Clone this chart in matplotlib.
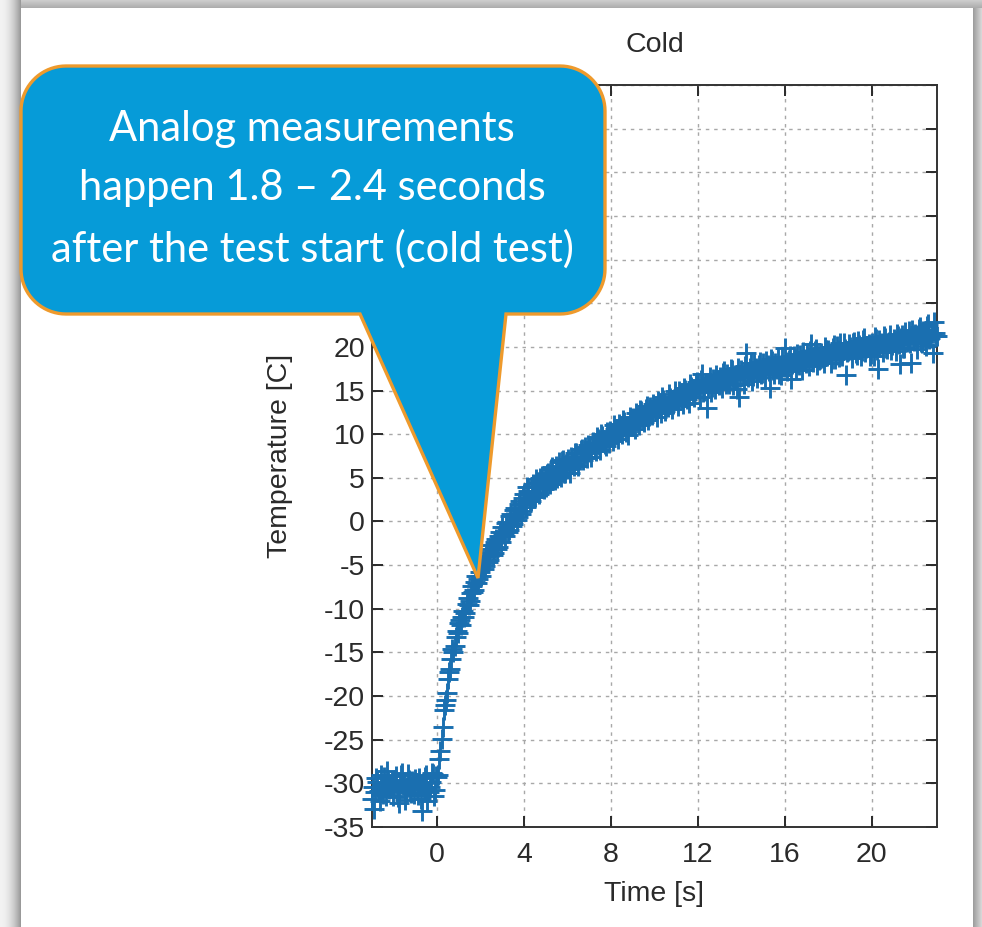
import numpy as np
import matplotlib
matplotlib.use("Agg")
import matplotlib.pyplot as plt
from matplotlib.patches import PathPatch, Rectangle
from matplotlib.path import Path
from matplotlib.transforms import Affine2D

# ---------------- data ----------------
title = "Cold"
x_label = "Time [s]"
y_label = "Temperature [C]"
x_ticks = [0, 4, 8, 12, 16, 20]
y_ticks = [-35, -30, -25, -20, -15, -10, -5, 0, 5, 10, 15, 20, 25, 30, 35, 40, 45, 50]
x_limits = (-3, 23)
y_limits = (-35, 50)
callout_text = "Analog measurements\nhappen 1.8 \u2013 2.4 seconds\nafter the test start (cold test)"

time_start = -3.0   # s, first sample
time_step = 0.1     # s, sampling interval of each sample list
# samples at -3.0, -2.9, ...
temperature = [
    -31.8, -32.9, -29.4, -30.9, -29.1, -31.2, -30.0, -28.6, -30.7, -29.8,
    -30.5, -29.2, -31.6, -30.1, -28.8, -31.9, -30.4, -29.6, -31.1, -30.0,
    -29.5, -31.3, -30.2, -33.2, -30.6, -29.0, -31.0, -29.9, -28.9, -30.8,
    -29.3, -27.2, -24.9, -21.6, -20.4, -18.0, -16.9, -14.6, -14.3, -12.5,
    -11.6, -11.9, -10.2, -10.5, -8.8, -9.1, -7.4, -7.9, -6.3, -6.6,
    -6.3, -4.6, -5.1, -3.5, -4.4, -2.7, -3.6, -2.0, -2.9, -1.2,
    -0.6, -1.7, -0.1, -1.0, 0.9, -0.3, 1.6, 0.5, 2.4, 1.2,
    3.2, 1.7, 3.5, 2.3, 4.3, 2.8, 4.5, 3.1, 5.2, 3.7,
    4.0, 5.6, 4.3, 6.2, 4.7, 5.0, 6.8, 5.1, 7.0, 5.5,
    7.1, 5.6, 6.9, 6.3, 7.8, 6.4, 8.2, 7.0, 8.5, 7.3,
    8.6, 7.4, 9.0, 8.1, 9.5, 8.2, 9.8, 8.9, 10.3, 9.0,
    10.1, 9.2, 10.6, 9.5, 10.9, 10.0, 11.4, 10.2, 9.9, 11.3,
    11.8, 10.6, 12.0, 11.1, 12.6, 11.4, 12.9, 11.6, 13.1, 12.2,
    13.0, 12.0, 13.5, 12.4, 13.9, 12.7, 13.1, 14.2, 12.9, 14.0,
    14.3, 13.2, 14.6, 13.5, 15.1, 14.0, 13.6, 15.4, 14.3, 15.6,
    15.6, 14.3, 16.9, 15.0, 13.0, 15.9, 14.8, 16.3, 15.2, 16.0,
    16.5, 15.3, 17.2, 15.7, 16.0, 17.5, 15.6, 16.8, 15.2, 14.3,
    17.3, 15.8, 19.3, 16.5, 17.6, 16.1, 18.0, 16.4, 17.9, 16.9,
    18.1, 16.6, 17.9, 15.3, 18.4, 16.9, 17.6, 18.7, 16.8, 17.9,
    19.9, 17.2, 18.5, 16.3, 18.9, 17.5, 18.2, 19.1, 17.4, 18.6,
    19.2, 17.8, 20.3, 18.3, 19.5, 17.9, 18.6, 19.0, 18.1, 19.7,
    19.6, 18.2, 19.9, 18.6, 20.1, 18.8, 19.3, 20.4, 16.8, 19.5,
    20.0, 18.7, 20.6, 19.1, 20.2, 18.9, 20.8, 19.4, 20.1, 19.0,
    20.4, 18.9, 20.9, 17.5, 20.5, 19.4, 21.0, 19.8, 20.6, 19.6,
    20.9, 19.5, 21.2, 18.0, 21.4, 19.9, 20.6, 21.8, 18.2, 20.9,
    21.5, 19.8, 22.3, 20.4, 21.7, 20.1, 22.6, 21.0, 19.3, 21.6,
    21.2,
]
# samples in between, at -2.95, -2.85, ...
temperature_mid = [
    -30.4, -31.0, -29.9, -32.0, -30.6, -29.3, -31.5, -29.8, -30.2, -31.4,
    -29.6, -30.9, -32.2, -29.1, -30.3, -31.0, -28.9, -30.6, -29.7, -31.2,
    -30.7, -29.4, -31.8, -30.0, -29.3, -32.0, -30.4, -28.8, -31.5, -29.2,
    -29.0, -26.3, -23.5, -21.0, -19.6, -17.3, -15.8, -14.9, -13.2, -12.8,
    -11.3, -11.0, -10.9, -9.5, -9.6, -8.2, -8.1, -6.9, -7.0, -5.8,
    -5.0, -5.5, -4.0, -4.7, -3.1, -3.8, -2.4, -3.1, -1.7, -2.3,
    -1.4, -0.2, -1.2, 0.6, -0.5, 1.3, 0.2, 2.0, 0.9, 2.7,
    2.0, 3.9, 2.5, 4.0, 2.9, 4.9, 3.4, 5.0, 3.8, 4.9,
    5.4, 4.4, 6.0, 4.9, 6.3, 5.7, 5.3, 6.9, 5.6, 6.6,
    6.0, 7.4, 6.6, 7.9, 7.1, 7.0, 8.3, 7.4, 7.8, 8.8,
    8.0, 9.1, 8.5, 9.7, 8.8, 10.0, 9.3, 8.7, 9.9, 10.4,
    9.8, 11.0, 10.3, 11.2, 10.4, 11.6, 10.8, 10.6, 12.0, 10.9,
    11.5, 12.4, 11.3, 12.8, 11.9, 12.3, 13.2, 12.1, 12.5, 13.4,
    12.6, 13.8, 13.0, 14.3, 13.4, 13.2, 14.6, 13.8, 13.5, 14.9,
    13.9, 15.0, 14.1, 15.3, 14.6, 14.4, 15.8, 14.8, 14.9, 16.0,
    15.2, 16.2, 14.8, 15.9, 15.5, 16.6, 15.4, 16.0, 16.8, 15.6,
    16.1, 17.0, 16.2, 16.9, 15.8, 17.3, 16.4, 16.3, 17.6, 16.6,
    16.8, 17.8, 16.9, 17.1, 18.2, 16.7, 17.6, 17.2, 18.3, 17.0,
    17.6, 18.4, 17.2, 18.6, 17.4, 18.1, 17.5, 16.9, 18.8, 17.7,
    18.3, 17.8, 18.9, 18.0, 18.6, 19.2, 17.9, 18.4, 19.4, 18.1,
    18.7, 19.5, 18.4, 19.0, 19.8, 18.5, 19.3, 18.7, 20.0, 18.9,
    19.3, 18.6, 20.2, 19.1, 19.6, 20.5, 19.0, 19.8, 19.4, 20.3,
    19.6, 20.4, 19.3, 20.7, 19.8, 19.5, 21.0, 19.9, 20.3, 19.2,
    20.1, 21.1, 19.7, 20.8, 20.3, 21.3, 19.9, 20.5, 21.4, 20.2,
    20.6, 21.5, 20.3, 21.0, 19.9, 21.7, 20.8, 20.4, 21.9, 20.7,
    21.1, 22.0, 20.6, 21.8, 21.3, 22.4, 20.9, 21.6, 22.8, 21.3,
]
time = time_start + time_step * np.arange(len(temperature))
time_mid = time_start + time_step / 2 + time_step * np.arange(len(temperature_mid))

# ---------------- figure ----------------
W, H = 982, 927
fig = plt.figure(figsize=(W / 100, H / 100), dpi=100, facecolor="white")
px = Affine2D().scale(1 / W, -1 / H).translate(0, 1) + fig.transFigure

# screenshot shadow frame
for i in range(21):
    g = 0.95 - 0.35 * (i / 20) ** 2
    fig.add_artist(Rectangle((i, 0), 1, H, transform=px, color=(g, g, g), lw=0, zorder=0))
for j in range(8):
    g = 0.80 - 0.12 * (j / 7)
    fig.add_artist(Rectangle((21, j), W - 21, 1, transform=px, color=(g, g, g), lw=0, zorder=0))
for i in range(9):
    g = 0.62 + 0.22 * (i / 8)
    fig.add_artist(Rectangle((973 + i, 8), 1, H, transform=px, color=(g, g, g), lw=0, zorder=0))

plt.rcParams["font.family"] = ["Liberation Sans", "DejaVu Sans"]
plt.rcParams["axes.unicode_minus"] = False
text_color = "#2a2a2a"
fs = 20.5

ax = fig.add_axes([372 / W, 1 - 827 / H, (937 - 372) / W, (827 - 85) / H])
all_t = np.concatenate([time, time_mid])
all_T = np.concatenate([temperature, temperature_mid])
ax.plot(all_t, all_T, "+", color="#1a6fb0", ms=14, mew=2.1, clip_on=False, zorder=3)
ax.set_xlim(*x_limits)
ax.set_ylim(*y_limits)
ax.set_xticks(x_ticks)
ax.set_yticks(y_ticks)
ax.tick_params(direction="in", length=8, width=1.4, top=True, right=True,
               labelsize=fs, colors=text_color)
ax.tick_params(axis="x", pad=11)
ax.tick_params(axis="y", pad=5)
for s in ax.spines.values():
    s.set_color("#333333")
    s.set_linewidth(1.4)
ax.grid(True, color="#a8a8a8", linestyle=(0, (2.5, 3.5)), linewidth=1.0)
ax.set_axisbelow(True)
ax.set_title(title, fontsize=fs, color=text_color, pad=24)
ax.set_xlabel(x_label, fontsize=fs, color=text_color, labelpad=9)
ax.set_ylabel(y_label, fontsize=fs, color=text_color, labelpad=22)

# ---------------- callout ----------------
x0, x1, y0, y1, r = 21, 605, 66, 314, 45
tip = (478, 578)
base_l, base_r = 360, 506
verts = []
def arc(cx, cy, a0, a1):
    for a in np.linspace(np.radians(a0), np.radians(a1), 20):
        verts.append((cx + r * np.cos(a), cy + r * np.sin(a)))
# image coords (y downward)
arc(x0 + r, y0 + r, 180, 270)          # top-left
arc(x1 - r, y0 + r, 270, 360)          # top-right
arc(x1 - r, y1 - r, 0, 90)             # bottom-right
verts.append((base_r, y1))
verts.append(tip)
verts.append((base_l, y1))
arc(x0 + r, y1 - r, 90, 180)           # bottom-left
verts.append(verts[0])
codes = [Path.MOVETO] + [Path.LINETO] * (len(verts) - 2) + [Path.CLOSEPOLY]
callout = PathPatch(Path(verts, codes), transform=px, facecolor="#069bd8",
                    edgecolor="#ee9a2c", lw=2.4, joinstyle="miter", zorder=5)
fig.add_artist(callout)
fig.text(312 / W, 1 - 189 / H, callout_text, ha="center", va="center",
         color="white", fontsize=30, family=["Lato", "DejaVu Sans"],
         linespacing=1.68, zorder=6)

fig.savefig("out.png", dpi=100, facecolor=fig.get_facecolor())
